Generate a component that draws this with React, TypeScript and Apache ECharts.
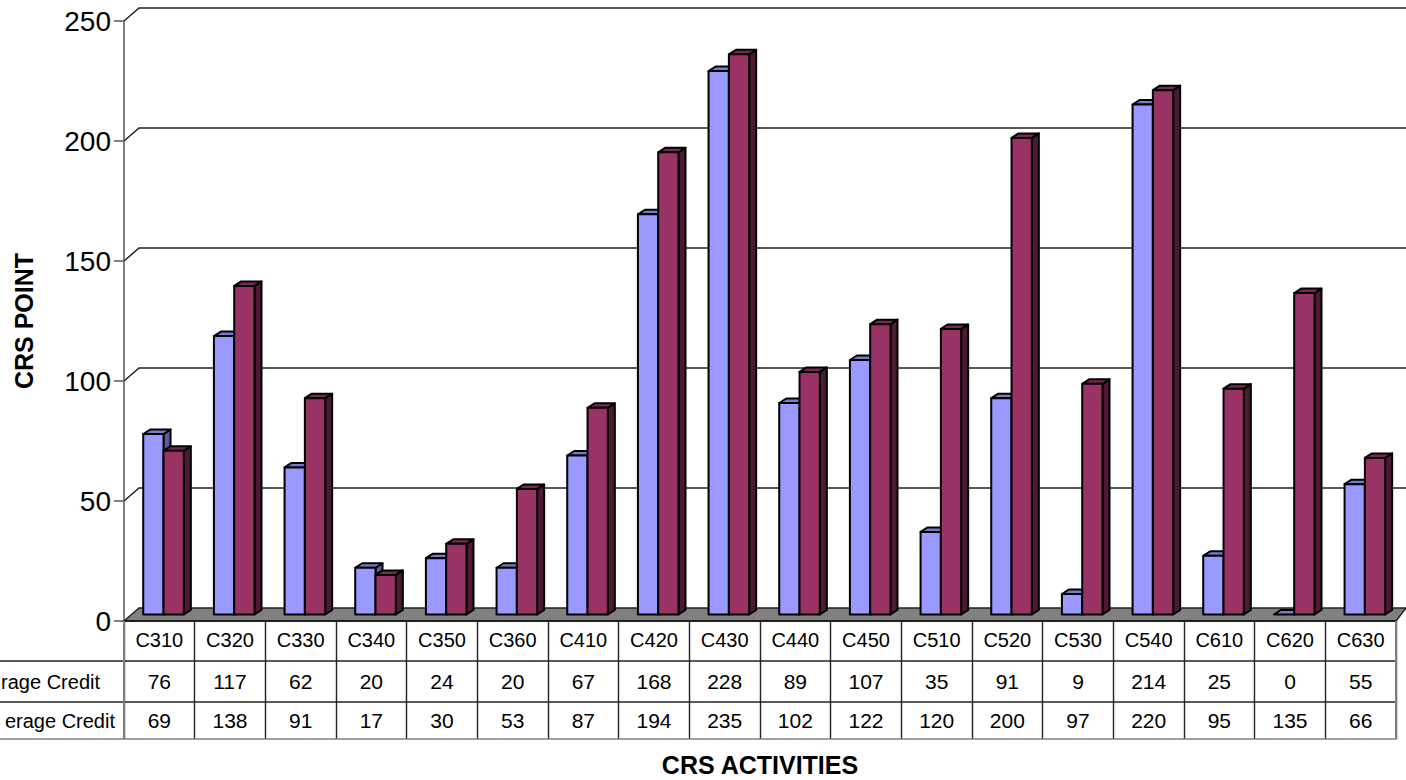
import React, { useEffect, useRef } from "react";
import * as echarts from "echarts";

const categories = ["C310","C320","C330","C340","C350","C360","C410","C420","C430","C440","C450","C510","C520","C530","C540","C610","C620","C630"];
const seriesAName = "rage Credit";
const seriesBName = "erage Credit";
const seriesA = [76,117,62,20,24,20,67,168,228,89,107,35,91,9,214,25,0,55];
const seriesB = [69,138,91,17,30,53,87,194,235,102,122,120,200,97,220,95,135,66];
const yTicks = [50,100,150,200,250];

const FONT = "Liberation Sans, Arial, sans-serif";
const L = 124, R = 1396, T = 21, B = 621, TB = 739;
const ROW1 = 661, ROW2 = 702;
const WALL_DX = 15, WALL_DY = -13, WALL_R = 1406;
const BASE_DY = -6.5, BAR_SCALE = 0.995, BAR_W = 20.3, BAR_SHIFT = 4.2, TOP_DY = 1;
const DEPTH_X = 7, DEPTH_Y = -4.5;

const barRender = (col: number, front: string, top: string, side: string) => (params: any, api: any) => {
  const i = api.value(0), v = api.value(1);
  const c0 = api.coord([i, 0]);
  const c1 = api.coord([i, v]);
  const base = c0[1] + BASE_DY;
  const y = v > 0 ? base + TOP_DY + (c1[1] - c0[1]) * BAR_SCALE : base;
  const x0 = c0[0] + BAR_SHIFT + (col === 0 ? -BAR_W : 0);
  const x1 = x0 + BAR_W;
  const stroke = { stroke: "#000", lineWidth: 2, lineJoin: "round" };
  const children: any[] = [
    { type: "polygon", shape: { points: [[x1, y], [x1 + DEPTH_X, y + DEPTH_Y], [x1 + DEPTH_X, base + DEPTH_Y], [x1, base]] }, style: { fill: side, ...stroke } },
    { type: "polygon", shape: { points: [[x0, y], [x0 + DEPTH_X, y + DEPTH_Y], [x1 + DEPTH_X, y + DEPTH_Y], [x1, y]] }, style: { fill: top, ...stroke } },
  ];
  if (v > 0) children.push({ type: "rect", shape: { x: x0, y, width: BAR_W, height: base - y }, style: { fill: front, ...stroke } });
  return { type: "group", children };
};

const rowRender = (rowY: number) => (params: any, api: any) => {
  const c = api.coord([api.value(0), 0]);
  return { type: "text", style: { text: String(api.value(1)), x: c[0], y: rowY, fill: "#000", fontSize: 21, fontFamily: FONT, textAlign: "center", textVerticalAlign: "middle" } };
};

export default function App() {
  const ref = useRef<HTMLDivElement>(null);
  useEffect(() => {
    document.body.style.margin = "0";
    document.body.style.overflow = "hidden";
    const chart = echarts.init(ref.current!, null, { renderer: "svg" });
    const hline = (y: number, x1: number, x2: number, stroke: string, w = 1.2) => ({ type: "line", z: 20, shape: { x1, y1: y, x2, y2: y }, style: { stroke, lineWidth: w } });
    const vline = (x: number, y1: number, y2: number, stroke: string, w = 1.6) => ({ type: "line", z: 20, shape: { x1: x, y1, x2: x, y2 }, style: { stroke, lineWidth: w } });
    chart.setOption({
      animation: false,
      backgroundColor: "#fff",
      textStyle: { fontFamily: FONT },
      grid: { left: L, top: T, width: R - L, height: B - T, containLabel: false, outerBoundsMode: "none" },
      xAxis: {
        type: "category",
        data: categories,
        axisLine: { show: false },
        axisTick: { show: true, length: TB - B, lineStyle: { color: "#222", width: 1.4 } },
        axisLabel: { color: "#000", fontSize: 20, fontFamily: FONT, margin: 9 },
        name: "CRS ACTIVITIES",
        nameLocation: "middle",
        nameGap: 131,
        nameTextStyle: { color: "#000", fontSize: 25, fontWeight: "bold", fontFamily: FONT },
      },
      yAxis: {
        type: "value",
        min: 0,
        max: 250,
        interval: 50,
        axisLine: { show: true, lineStyle: { color: "#808080", width: 2 } },
        axisTick: { show: true, length: 10, lineStyle: { color: "#808080", width: 2 } },
        axisLabel: { color: "#000", fontSize: 28, fontFamily: FONT, margin: 13 },
        splitLine: { show: false },
        name: "CRS POINT",
        nameLocation: "middle",
        nameGap: 88,
        nameRotate: 90,
        nameTextStyle: { color: "#000", fontSize: 25, fontWeight: "bold", fontFamily: FONT },
      },
      tooltip: { show: false },
      series: [
        {
          type: "custom", name: "wall", coordinateSystem: "cartesian2d", clip: false, silent: true, z: 1,
          data: yTicks.map((t) => [0, t]),
          encode: { x: 0, y: 1 },
          renderItem: (p: any, api: any) => {
            const c = api.coord([0, api.value(1)]);
            return { type: "polyline", shape: { points: [[L, c[1]], [L + WALL_DX, c[1] + WALL_DY], [WALL_R, c[1] + WALL_DY]] }, style: { fill: "none", stroke: "#222", lineWidth: 1.5 } };
          },
        },
        {
          type: "custom", name: "floor", coordinateSystem: "cartesian2d", clip: false, silent: true, z: 2,
          data: [[0, 0]],
          encode: { x: 0, y: 1 },
          renderItem: (p: any, api: any) => {
            const c = api.coord([0, 0]);
            return { type: "polygon", shape: { points: [[L, c[1]], [L + WALL_DX, c[1] + WALL_DY], [WALL_R, c[1] + WALL_DY], [R, c[1]]] }, style: { fill: "#808080", stroke: "#222", lineWidth: 1.5 } };
          },
        },
        {
          type: "custom", name: seriesAName, coordinateSystem: "cartesian2d", clip: false, silent: true, z: 3,
          data: seriesA.map((v, i) => [i, v]),
          encode: { x: 0, y: 1 },
          renderItem: barRender(0, "#9999FF", "#7A7ACC", "#5C5C99"),
        },
        {
          type: "custom", name: seriesBName, coordinateSystem: "cartesian2d", clip: false, silent: true, z: 4,
          data: seriesB.map((v, i) => [i, v]),
          encode: { x: 0, y: 1 },
          renderItem: barRender(1, "#993366", "#7A2952", "#4D1A33"),
        },
        {
          type: "custom", name: "row A", coordinateSystem: "cartesian2d", clip: false, silent: true, z: 5,
          data: seriesA.map((v, i) => [i, v]),
          encode: { x: 0, y: 1 },
          renderItem: rowRender((ROW1 + ROW2) / 2),
        },
        {
          type: "custom", name: "row B", coordinateSystem: "cartesian2d", clip: false, silent: true, z: 5,
          data: seriesB.map((v, i) => [i, v]),
          encode: { x: 0, y: 1 },
          renderItem: rowRender((ROW2 + TB) / 2),
        },
      ],
      graphic: {
        elements: [
          hline(B, L, R, "#111", 1.6),
          hline(ROW1, 0, R, "#222", 1.4),
          hline(ROW2, 0, R, "#222", 1.4),
          hline(TB, 0, R + 1, "#808080", 1.6),
          vline(L, B, TB, "#808080", 2),
          vline(R, B, TB, "#808080", 2),
          { type: "text", z: 21, style: { text: seriesAName, x: 100, y: (ROW1 + ROW2) / 2, fill: "#000", fontSize: 20, fontFamily: FONT, textAlign: "right", textVerticalAlign: "middle" } },
          { type: "text", z: 21, style: { text: seriesBName, x: 115, y: (ROW2 + TB) / 2, fill: "#000", fontSize: 20, fontFamily: FONT, textAlign: "right", textVerticalAlign: "middle" } },
        ],
      },
    });
    return () => chart.dispose();
  }, []);
  return <div ref={ref} style={{ position: "fixed", left: 0, top: 0, width: 1406, height: 780 }} />;
}
